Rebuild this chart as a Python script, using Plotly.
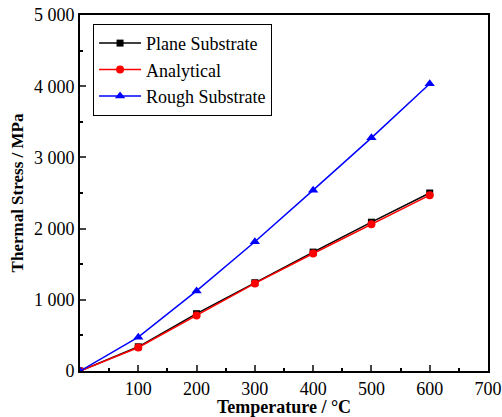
import plotly.graph_objects as go

temperature = [0, 100, 200, 300, 400, 500, 600]
plane_substrate = [0, 340, 805, 1240, 1670, 2090, 2500]
analytical = [0, 330, 780, 1230, 1650, 2060, 2470]
rough_substrate = [0, 475, 1125, 1815, 2540, 3275, 4035]

x_ticks = [100, 200, 300, 400, 500, 600, 700]
y_ticks = [0, 1000, 2000, 3000, 4000, 5000]

font = "Liberation Serif, Times New Roman, serif"

fig = go.Figure()
fig.add_trace(go.Scatter(x=temperature, y=plane_substrate, name="Plane Substrate",
                         mode="lines+markers", line=dict(color="black", width=1.5),
                         marker=dict(symbol="square", size=7, color="black")))
fig.add_trace(go.Scatter(x=temperature, y=analytical, name="Analytical",
                         mode="lines+markers", line=dict(color="red", width=1.5),
                         marker=dict(symbol="circle", size=8, color="red")))
fig.add_trace(go.Scatter(x=temperature, y=rough_substrate, name="Rough Substrate",
                         mode="lines+markers", line=dict(color="blue", width=1.5),
                         marker=dict(symbol="triangle-up", size=9, color="blue")))

fig.update_layout(
    width=502, height=417,
    margin=dict(l=80, r=14, t=15, b=46),
    paper_bgcolor="white", plot_bgcolor="white",
    separators=". ",
    font=dict(family=font, size=18, color="black"),
    showlegend=True,
    legend=dict(x=0.032, y=0.975, xanchor="left", yanchor="top",
                bordercolor="black", borderwidth=1, bgcolor="white",
                font=dict(family=font, size=18), tracegroupgap=0,
                itemwidth=42, entrywidth=200, entrywidthmode="pixels"),
)
fig.update_xaxes(range=[0, 700], tickvals=x_ticks, ticks="inside", ticklen=6,
                 tickwidth=1.5, showline=True, linecolor="black", linewidth=2,
                 mirror=True, showgrid=False, zeroline=False, automargin=False,
                 minor=dict(dtick=50, ticks="inside", ticklen=3, tickwidth=1.5, tickcolor="black"),
                 title=dict(text="<b>Temperature / °C</b>", standoff=2,
                            font=dict(family=font, size=18)),
                 tickfont=dict(family=font, size=18))
fig.update_yaxes(range=[0, 5000], tickvals=y_ticks, tickformat=",d", ticks="inside",
                 ticklen=6, tickwidth=1.5, showline=True, linecolor="black", linewidth=2,
                 mirror=True, showgrid=False, zeroline=False, automargin=False,
                 minor=dict(dtick=500, ticks="inside", ticklen=3, tickwidth=1.5, tickcolor="black"),
                 title=dict(text="<b>Thermal Stress / MPa</b>", standoff=6,
                            font=dict(family=font, size=17)),
                 tickfont=dict(family=font, size=18))

fig.write_html("out.html")
